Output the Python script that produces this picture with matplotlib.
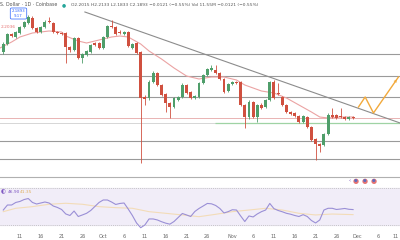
import matplotlib.pyplot as plt

# daily candles, Sep 7 .. Nov 30 (day 0 = Sep 7)
opens = [2.85, 2.93, 3.03, 3.00, 3.04, 3.10, 3.14, 3.19, 3.09, 3.05,
         3.10, 3.16, 3.14, 3.05, 3.04, 3.04, 2.90, 2.87, 2.99, 2.79,
         2.82, 2.85, 2.935, 2.94, 2.89, 3.00, 3.11, 3.10, 3.05, 3.03,
         3.05, 2.89, 2.94, 2.85, 2.40, 2.39, 2.55, 2.64, 2.52, 2.43,
         2.34, 2.30, 2.37, 2.40, 2.52, 2.45, 2.39, 2.40, 2.54, 2.62,
         2.675, 2.67, 2.64, 2.58, 2.46, 2.53, 2.55, 2.55, 2.32, 2.20,
         2.35, 2.20, 2.32, 2.30, 2.37, 2.55, 2.44, 2.40, 2.32, 2.25,
         2.24, 2.21, 2.15, 2.20, 2.10, 1.98, 1.93, 1.92, 2.03, 2.22,
         2.22, 2.21, 2.20, 2.18, 2.2015]
highs = [2.95, 3.04, 3.04, 3.06, 3.11, 3.16, 3.22, 3.21, 3.10, 3.11,
         3.17, 3.20, 3.15, 3.06, 3.05, 3.05, 2.91, 3.00, 3.00, 2.84,
         2.87, 2.93, 2.95, 2.95, 3.01, 3.12, 3.17, 3.11, 3.07, 3.06,
         3.06, 2.94, 2.95, 2.86, 2.42, 2.57, 2.66, 2.65, 2.53, 2.44,
         2.35, 2.40, 2.41, 2.54, 2.53, 2.46, 2.42, 2.55, 2.63, 2.69,
         2.72, 2.72, 2.65, 2.59, 2.54, 2.56, 2.56, 2.56, 2.33, 2.37,
         2.36, 2.33, 2.34, 2.38, 2.56, 2.57, 2.54, 2.41, 2.33, 2.26,
         2.25, 2.22, 2.22, 2.21, 2.11, 1.99, 1.94, 2.04, 2.24, 2.29,
         2.23, 2.29, 2.21, 2.21, 2.2133]
lows = [2.83, 2.92, 3.00, 2.99, 3.03, 3.09, 3.13, 3.08, 3.04, 3.04,
        3.09, 3.14, 3.04, 3.03, 3.02, 2.74, 2.85, 2.86, 2.78, 2.74,
        2.81, 2.84, 2.91, 2.88, 2.88, 2.99, 3.09, 3.02, 3.03, 3.02,
        2.90, 2.88, 2.83, 1.74, 2.32, 2.37, 2.54, 2.51, 2.41, 2.25,
        2.19, 2.29, 2.36, 2.39, 2.43, 2.38, 2.38, 2.39, 2.53, 2.61,
        2.66, 2.63, 2.57, 2.44, 2.45, 2.52, 2.53, 2.31, 2.09, 2.18,
        2.19, 2.15, 2.28, 2.29, 2.36, 2.38, 2.42, 2.31, 2.24, 2.22,
        2.20, 2.14, 2.14, 2.09, 1.96, 1.77, 1.85, 1.91, 2.02, 2.19,
        2.18, 2.19, 2.17, 2.17, 2.1833]
closes = [2.93, 3.03, 3.01, 3.05, 3.10, 3.15, 3.20, 3.09, 3.05, 3.10,
          3.15, 3.15, 3.05, 3.04, 3.03, 2.90, 2.87, 2.99, 2.79, 2.83,
          2.86, 2.92, 2.925, 2.89, 3.00, 3.11, 3.10, 3.03, 3.04, 3.05,
          2.91, 2.93, 2.84, 2.39, 2.38, 2.55, 2.64, 2.52, 2.42, 2.34,
          2.30, 2.39, 2.40, 2.52, 2.44, 2.39, 2.41, 2.54, 2.62, 2.68,
          2.685, 2.64, 2.58, 2.45, 2.53, 2.55, 2.54, 2.32, 2.20, 2.35,
          2.20, 2.32, 2.29, 2.37, 2.55, 2.39, 2.43, 2.32, 2.25, 2.23,
          2.21, 2.15, 2.21, 2.10, 1.97, 1.93, 1.91, 2.03, 2.22, 2.20,
          2.19, 2.20, 2.18, 2.20, 2.1893]

ma_days = [-0.8, 2, 4, 7, 11, 14, 15, 18, 20, 23, 26, 28, 30, 33, 35, 38,
           41, 44, 47, 50, 53, 56, 58, 62, 65, 68, 71, 74, 76, 78, 81, 84]
ma_vals = [2.89, 2.95, 3.00, 3.04, 3.06, 3.05, 3.01, 2.96, 2.94, 2.97, 3.00,
           3.01, 3.00, 2.93, 2.86, 2.78, 2.69, 2.61, 2.58, 2.60, 2.60, 2.57,
           2.52, 2.46, 2.44, 2.39, 2.32, 2.25, 2.20, 2.19, 2.20, 2.20]

rsi = [46.4, 51.9, 51.9, 54.7, 55.8, 57.9, 59.0, 54.7, 53.0, 54.1,
       55.2, 54.1, 50.8, 49.2, 47.0, 42.1, 40.4, 45.3, 39.3, 41.0,
       42.8, 45.9, 50.3, 54.7, 57.4, 57.4, 55.2, 52.5, 53.6, 54.1,
       47.5, 40.4, 32.2, 27.0, 30.0, 36.6, 36.6, 35.5, 33.6, 32.0,
       30.9, 33.8, 38.2, 42.6, 41.0, 39.3, 44.8, 48.1, 50.8, 53.6,
       53.2, 51.4, 48.1, 43.2, 44.6, 46.7, 46.4, 39.9, 33.8, 39.9,
       38.8, 42.1, 44.6, 46.4, 53.6, 47.9, 45.9, 44.5, 42.8, 41.8,
       40.4, 39.3, 41.3, 39.3, 34.9, 32.2, 35.5, 46.4, 48.3, 48.3,
       47.0, 47.5, 48.1, 47.2, 46.9]
rsi_ma_days = [0, 3, 7, 11, 15, 19, 23, 27, 31, 35, 39, 43, 47, 51, 55,
               59, 63, 67, 71, 75, 79, 84]
rsi_ma = [44.6, 48.3, 50.1, 52.7, 53.8, 52.7, 50.1, 49.0, 48.3, 44.6, 42.8,
          41.0, 39.1, 41.7, 44.6, 46.4, 48.3, 46.4, 42.8, 41.0, 42.0, 41.35]

levels = [2.83, 2.61, 2.40, 1.96, 1.78]
last_price = 2.1893
support = 2.14
trend_days = [19.6, 95.3]
trend_prices = [3.25, 2.14]
path_days = [85.3, 86.9, 88.9, 94.9]
path_prices = [2.30, 2.40, 2.24, 2.60]

tick_days = [4, 9, 14, 19, 24, 29, 34, 39, 44, 49, 55, 60, 65, 70, 75, 80, 85, 90, 95]
tick_labels = ['11', '16', '21', '26', 'Oct', '6', '11', '16', '21', '26',
               'Nov', '6', '11', '16', '21', '26', 'Dec', '6', '11']

UP = '#4f9e6a'
DOWN = '#d0503f'
XMIN, XMAX = -0.79, 95.27

fig = plt.figure(figsize=(4, 2.4), dpi=100)
ax = fig.add_axes([0, 65 / 240, 1, 175 / 240])
ax.set_xlim(XMIN, XMAX)
ax.set_ylim(1.62, 3.37)
ax.axis('off')

for lv in levels:
    ax.axhline(lv, color='#9a9a9a', lw=0.8, zorder=1)
ax.axhline(last_price, color='#e9b3b3', lw=0.7, zorder=1)
ax.axhline(support, color='#d6d6d6', lw=0.7, zorder=1)
ax.hlines(support, 50.8, XMAX, color='#9fd3a4', lw=0.9, zorder=1)

ax.plot(ma_days, ma_vals, color='#eba3a3', lw=0.8, zorder=2)

days = list(range(len(opens)))
for d, o, h, l, c in zip(days, opens, highs, lows, closes):
    col = UP if c >= o else DOWN
    ax.vlines(d, l, h, color=col, lw=0.6, zorder=3)
    ax.bar(d, max(abs(c - o), 0.008), bottom=min(o, c), width=0.7,
           color=col, zorder=4)

ax.plot(trend_days, trend_prices, color='#8c8c8c', lw=0.8, zorder=2)
ax.plot(path_days, path_prices, color='#f2a93b', lw=1.0, zorder=5)
ax.annotate('', xy=(path_days[-1], path_prices[-1]),
            xytext=(path_days[-2] + 4.5, path_prices[-2] + 0.27),
            arrowprops=dict(arrowstyle='-|>', color='#f2a93b', lw=0, mutation_scale=6))

# RSI pane
rax = fig.add_axes([0, 9 / 240, 1, 54 / 240])
rax.set_xlim(XMIN, XMAX)
rax.set_ylim(23.4, 82.6)
for s in rax.spines.values():
    s.set_visible(False)
rax.set_yticks([])
rax.axhspan(30, 70, color='#f1edf8', zorder=0)
rax.axhline(70, color='#b5b5b5', lw=0.5, ls=(0, (1.5, 1.5)))
rax.axhline(30, color='#b5b5b5', lw=0.5, ls=(0, (1.5, 1.5)))
rax.plot(rsi_ma_days, rsi_ma, color='#f3dcb8', lw=0.8)
rax.plot(days, rsi, color='#9a8fd6', lw=0.8)
rax.set_xticks(tick_days)
rax.set_xticklabels(tick_labels)
rax.tick_params(axis='x', length=0, labelsize=3.6, colors='#666666', pad=2)
rax.get_xticklabels()[-1].set_ha('right')

fig.add_artist(plt.Line2D([0, 1], [1 - 176.5 / 240] * 2, color='#b0b0b0', lw=0.8))

# header texts
fig.text(0.0, 1 - 5 / 240, 'S. Dollar · 1D · Coinbase', fontsize=3.4, color='#555555', va='center')
fig.text(62 / 400, 1 - 5 / 240, '●', fontsize=3.4, color='#26a69a', va='center')
fig.text(71 / 400, 1 - 5 / 240,
         'O2.2015 H2.2133 L2.1833 C2.1893 −0.0121 (−0.55%) Vol 11.55M −0.0121 (−0.55%)',
         fontsize=3.2, color='#555555', va='center')
fig.text(18.5 / 400, 1 - 13.5 / 240, '2.1893\n9:17', fontsize=2.8, color='#2962ff',
         ha='center', va='center', linespacing=1.1,
         bbox=dict(boxstyle='round,pad=0.35', fc='white', ec='#2962ff', lw=0.5))
fig.text(0.5 / 400, 1 - 27 / 240, '2.2036', fontsize=3.2, color='#e57373', va='center')
fig.text(1 / 400, 1 - 192 / 240, '◐', fontsize=4, color='#7e57c2', va='center')
fig.text(8 / 400, 1 - 192 / 240, '46.90', fontsize=3.2, color='#7e57c2', va='center')
fig.text(20 / 400, 1 - 192 / 240, '41.35', fontsize=3.2, color='#e0b060', va='center')
for ix in [356, 365, 374]:
    fig.text(ix / 400, 1 - 181 / 240, '●', fontsize=5, color='#e57373', ha='center', va='center')
    fig.text(ix / 400, 1 - 181 / 240, '●', fontsize=3, color='#5c6bc0', ha='center', va='center')
fig.text(350 / 400, 1 - 181 / 240, '‹', fontsize=4, color='#7e57c2', ha='center', va='center')

plt.savefig('out.png', dpi=100)
